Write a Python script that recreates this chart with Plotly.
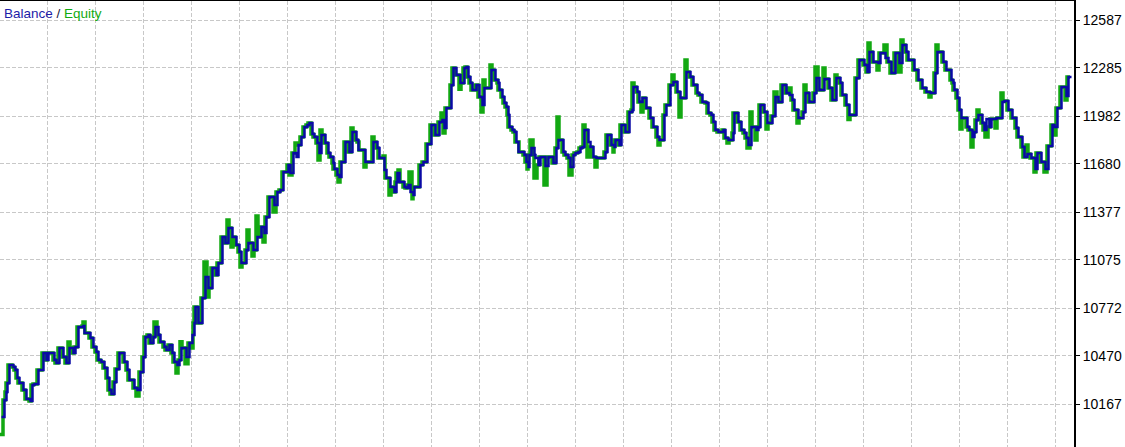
import plotly.graph_objects as go

# deal number of each balance change
deal = [
    0, 3, 5, 6, 8, 12, 14, 16, 18, 22,
    25, 29, 31, 33, 37, 42, 45, 47, 53, 55,
    58, 62, 65, 68, 70, 72, 74, 77, 82, 83,
    85, 89, 92, 95, 97, 100, 103, 106, 108, 110,
    113, 115, 118, 123, 126, 128, 133, 136, 139, 142,
    144, 147, 149, 152, 154, 157, 159, 163, 165, 168,
    171, 173, 176, 178, 180, 182, 185, 188, 191, 193,
    194, 197, 201, 204, 207, 209, 211, 215, 217, 221,
    224, 227, 229, 231, 233, 235, 238, 240, 242, 245,
    247, 249, 252, 254, 256, 258, 260, 263, 265, 268,
    273, 276, 279, 282, 287, 289, 292, 295, 297, 300,
    303, 306, 308, 311, 313, 316, 318, 320, 322, 324,
    327, 329, 332, 333, 336, 338, 340, 344, 348, 351,
    353, 355, 357, 359, 364, 366, 372, 374, 376, 378,
    383, 385, 389, 391,
    393, 395, 396, 398, 400, 403, 405, 407, 409, 412,
    413, 419, 422, 426, 430, 434, 438, 441, 443, 445,
    450, 452, 455, 459, 461, 463, 465, 467, 469, 471,
    475, 478, 481, 483, 485, 490, 492, 494, 497, 498,
    501, 503, 505, 507, 508, 511, 513, 515, 517, 519,
    523, 525, 527, 528, 530, 533, 534, 537, 539, 544,
    547, 552, 555, 557, 559, 562, 564, 567, 569, 572,
    574, 577, 579,
    581, 583, 585, 587, 589, 592, 595, 597, 604, 606,
    610, 613, 614, 618, 620, 624, 628, 631, 632, 634,
    636, 638, 641, 643, 645, 649, 652, 656, 658, 660,
    663, 665, 669, 672, 674, 676, 679, 681, 685, 687,
    689, 692, 696, 698, 701, 705, 707, 710, 712, 714,
    717, 722, 724, 727, 729, 732, 733, 737, 740, 743,
    745, 747, 750, 752, 755, 757, 759, 763, 766, 768,
    771, 774, 777, 781, 785, 788, 791, 793, 797, 799,
    802, 804, 806, 808, 813, 815, 818, 823, 825, 828,
    831, 835, 837, 839, 841, 845, 848, 850, 855, 858,
    863, 866, 868, 870, 872, 877, 879, 884, 887, 890,
    894, 898, 901, 903, 905, 907, 913, 917, 921, 925,
    929, 931, 934, 936, 938, 942, 945, 950, 952, 953,
    956, 958, 960, 962, 966, 968, 971, 973, 975, 977,
    979, 981, 983, 985, 988, 990, 995, 997, 1001, 1003,
    1007, 1011, 1015, 1017, 1021, 1023, 1026, 1028, 1030, 1034,
    1036, 1040, 1044, 1047, 1051, 1053, 1056, 1060, 1065, 1067,
    1070,
]

balance = [
    10085, 10192, 10243, 10299, 10413, 10400, 10381, 10331, 10299, 10255,
    10198, 10186, 10287, 10293, 10381, 10488, 10444, 10488, 10444, 10425,
    10520, 10463, 10425, 10520, 10520, 10488, 10526, 10652, 10659, 10614,
    10614, 10583, 10526, 10495, 10444, 10432, 10394, 10331, 10255, 10230,
    10306, 10388, 10488, 10432, 10381, 10318, 10268, 10255, 10369, 10463,
    10589, 10602, 10551, 10589, 10652, 10602, 10558, 10526, 10507, 10539,
    10488, 10432, 10413, 10444, 10520, 10520, 10463, 10551, 10602, 10677,
    10778, 10677, 10835, 10967, 10898, 10898, 11024, 10980, 11056, 11219,
    11182, 11276, 11276, 11219, 11219, 11169, 11125, 11056, 11056, 11137,
    11182, 11182, 11137, 11137, 11219, 11219, 11282, 11245, 11345, 11472,
    11421, 11503, 11516, 11629, 11673, 11623, 11749, 11724, 11799, 11850,
    11913, 11925, 11938, 11868, 11850, 11812, 11749, 11862, 11862, 11812,
    11749, 11724, 11686, 11648, 11610, 11598, 11692, 11818, 11755, 11881,
    11881, 11831, 11768, 11768, 11692, 11692, 11818, 11818, 11780, 11717,
    11642, 11591, 11535, 11535,
    11503, 11566, 11623, 11566, 11566, 11535, 11528, 11547, 11503, 11484,
    11535, 11673, 11692, 11805, 11925, 11862, 11944, 11957, 11906, 12032,
    12177, 12284, 12240, 12190, 12190, 12284, 12291, 12228, 12190, 12146,
    12177, 12102, 12051, 12158, 12158, 12272, 12272, 12209, 12190, 12146,
    12102, 12064, 12039, 11988, 11913, 11894, 11881, 11818, 11755, 11755,
    11736, 11692, 11661, 11736, 11780, 11736, 11717, 11673, 11724, 11667,
    11724, 11686, 11780, 11831, 11831, 11755, 11736, 11717, 11661, 11736,
    11749, 11755, 11780,
    11787, 11894, 11894, 11818, 11787, 11724, 11717, 11717, 11755, 11862,
    11799, 11787, 11831, 11799, 11925, 11881, 12007, 12020, 12165, 12165,
    12133, 12070, 12095, 12095, 12032, 11969, 11913, 11850, 11831, 11831,
    11988, 12051, 12177, 12196, 12196, 12133, 12095, 12095, 12259, 12259,
    12228, 12177, 12127, 12114, 12070, 12064, 12001, 11988, 11944, 11894,
    11881, 11894, 11843, 11831, 11831, 11875, 12001, 11944, 11894, 11875,
    11843, 11799, 11913, 11913, 11894, 11913, 12051, 12007, 11938, 11938,
    11982, 12102, 12070, 12177, 12127, 12114, 12083, 12020, 11969, 11969,
    12007, 12127, 12127, 12070, 12127, 12221, 12146, 12215, 12215, 12158,
    12083, 12221, 12221, 12190, 12114, 12051, 11988, 11988, 12221, 12335,
    12303, 12259, 12385, 12385, 12322, 12316, 12379, 12347, 12322, 12253,
    12379, 12316, 12429, 12429, 12385, 12335, 12272, 12209, 12158, 12133,
    12127, 12127, 12253, 12385, 12385, 12322, 12272, 12209, 12190, 12146,
    12095, 12020, 11969, 11969, 11913, 11894, 11850, 11881, 11957, 11988,
    11988, 11938, 11894, 11963, 11913, 11963, 11969, 11969, 12070, 12076,
    12020, 11969, 11906, 11850, 11787, 11724, 11742, 11742, 11717, 11648,
    11749, 11692, 11648, 11793, 11925, 11913, 12032, 12165, 12108, 12228,
    12228,
]

equity = [
    9975, 10192, 10243, 10299, 10413, 10400, 10381, 10331, 10299, 10255,
    10198, 10186, 10287, 10293, 10381, 10488, 10444, 10488, 10444, 10425,
    10520, 10463, 10425, 10558, 10520, 10488, 10526, 10652, 10659, 10684,
    10614, 10583, 10526, 10495, 10444, 10432, 10394, 10331, 10255, 10230,
    10306, 10388, 10488, 10432, 10381, 10318, 10268, 10217, 10369, 10463,
    10589, 10602, 10551, 10589, 10684, 10602, 10558, 10526, 10507, 10539,
    10488, 10432, 10362, 10444, 10560, 10520, 10420, 10551, 10520, 10677,
    10778, 10677, 10835, 11062, 10841, 10898, 11024, 10980, 11056, 11219,
    11182, 11327, 11276, 11157, 11219, 11169, 11125, 11030, 11056, 11137,
    11264, 11182, 11100, 11137, 11352, 11219, 11282, 11188, 11345, 11472,
    11377, 11503, 11516, 11629, 11673, 11610, 11749, 11812, 11799, 11850,
    11913, 11925, 11938, 11868, 11850, 11812, 11705, 11894, 11862, 11812,
    11749, 11724, 11686, 11648, 11610, 11566, 11692, 11818, 11755, 11906,
    11881, 11831, 11818, 11768, 11661, 11692, 11850, 11818, 11780, 11717,
    11730, 11591, 11484, 11535,
    11503, 11566, 11623, 11642, 11566, 11535, 11528, 11547, 11629, 11460,
    11535, 11673, 11692, 11805, 11925, 11862, 11944, 12001, 11875, 12032,
    12177, 12284, 12240, 12150, 12190, 12284, 12291, 12228, 12190, 12146,
    12177, 12102, 12007, 12209, 12158, 12303, 12272, 12209, 12190, 12146,
    12102, 12064, 12039, 11988, 11913, 11894, 11881, 11818, 11818, 11755,
    11736, 11692, 11648, 11736, 11831, 11736, 11591, 11673, 11724, 11547,
    11724, 11686, 11780, 11976, 11831, 11755, 11736, 11717, 11610, 11736,
    11749, 11755, 11780,
    11787, 11925, 11894, 11724, 11787, 11724, 11661, 11717, 11755, 11862,
    11799, 11755, 11831, 11799, 11925, 11881, 12007, 12020, 12190, 12165,
    12133, 12070, 12007, 12095, 12032, 11969, 11913, 11850, 11799, 11831,
    11988, 12051, 12177, 12240, 12196, 12133, 11976, 12095, 12335, 12259,
    12228, 12177, 12127, 12114, 12070, 12064, 12001, 11988, 11944, 11894,
    11881, 11894, 11843, 11812, 11831, 11875, 12001, 11944, 11894, 11875,
    11843, 11780, 12007, 11913, 11831, 11913, 12051, 12007, 11900, 11938,
    11982, 12133, 12070, 12177, 12127, 12158, 12083, 12020, 11938, 11969,
    12007, 12177, 12127, 12070, 12127, 12291, 12146, 12284, 12215, 12158,
    12083, 12240, 12221, 12190, 12114, 12051, 11960, 11988, 12221, 12335,
    12303, 12259, 12442, 12385, 12322, 12272, 12379, 12429, 12322, 12253,
    12379, 12259, 12461, 12429, 12385, 12335, 12272, 12209, 12158, 12133,
    12102, 12127, 12253, 12429, 12385, 12322, 12272, 12209, 12190, 12146,
    12095, 12020, 11900, 11969, 11913, 11894, 11787, 11881, 11957, 12020,
    11988, 11938, 11894, 11850, 11913, 11963, 11906, 11969, 12127, 12076,
    12020, 11969, 11906, 11850, 11787, 11724, 11799, 11742, 11717, 11630,
    11749, 11692, 11630, 11793, 11925, 11862, 12032, 12165, 12083, 12228,
    12228,
]

y_ticks = [12587, 12285, 11982, 11680, 11377, 11075, 10772, 10470, 10167]

assert len(deal) == len(balance) == len(equity)

FONT = "Liberation Sans"
GRID = "#c8c8c8"

fig = go.Figure()

# equity below, on the base axis
fig.add_trace(go.Scatter(
    x=deal, y=equity, mode="lines", line_shape="hv",
    line=dict(color="#12a812", width=3.5),
    name="Equity", xaxis="x", yaxis="y"))

# balance on top, on an overlaid axis nudged slightly to the right
fig.add_trace(go.Scatter(
    x=deal, y=balance, mode="lines", line_shape="hv",
    line=dict(color="#0a0aa5", width=2.5),
    name="Balance", xaxis="x2", yaxis="y"))

fig.update_layout(
    width=1125, height=447,
    margin=dict(l=0, r=51, t=1, b=0, pad=0),
    paper_bgcolor="white", plot_bgcolor="white",
    showlegend=False,
    font=dict(family=FONT, size=14, color="black"),
    xaxis=dict(
        range=[0, 1074], side="top",
        showline=True, linecolor="black", linewidth=2,
        showticklabels=False, ticks="",
        showgrid=True, gridcolor=GRID, gridwidth=1, griddash="4px,2px",
        tick0=47, dtick=48, zeroline=False, automargin=False),
    xaxis2=dict(
        range=[-1.5, 1072.5], overlaying="x", visible=False,
        showgrid=False, zeroline=False),
    yaxis=dict(
        range=[9896, 12707], side="right",
        showline=True, linecolor="black", linewidth=2,
        ticks="outside", ticklen=4, tickwidth=1, tickcolor="black",
        tickmode="array", tickvals=y_ticks,
        ticktext=[str(v) for v in y_ticks],
        tickfont=dict(family=FONT, size=14, color="black"),
        showgrid=True, gridcolor=GRID, gridwidth=1, griddash="4px,2px",
        zeroline=False, automargin=False),
)

fig.add_annotation(
    xref="paper", yref="paper", x=0, y=1, xanchor="left", yanchor="top",
    xshift=2, yshift=-3, showarrow=False,
    text='<span style="color:#1c1ca8">Balance</span>'
         '<span style="color:#202040"> / </span>'
         '<span style="color:#10aa10">Equity</span>',
    font=dict(family=FONT, size=13.5))

# the page body has a default 8px margin; drop it so the chart fills the window
fig.write_html("out.html", config={"displayModeBar": False},
               post_script="document.body.style.margin='0';")
